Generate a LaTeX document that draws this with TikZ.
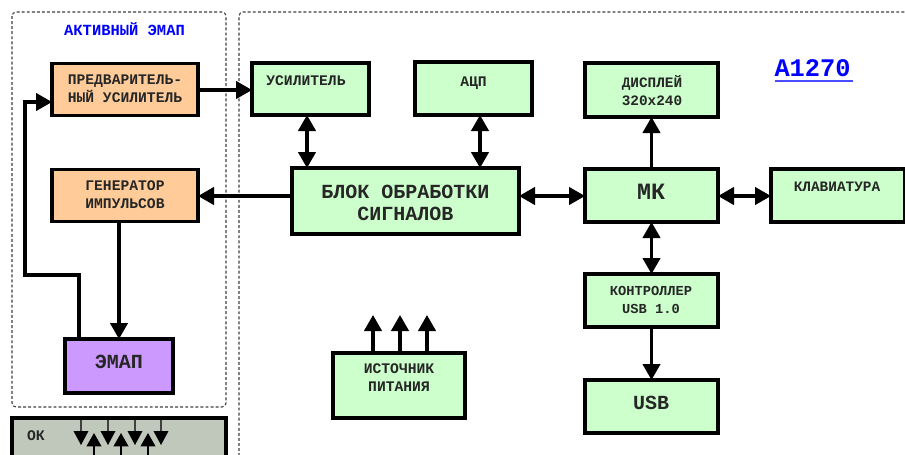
\documentclass[tikz,border=0pt]{standalone}
\usepackage{fontspec}
\usetikzlibrary{arrows.meta}
\setmainfont{Liberation Mono}
\definecolor{bxgreen}{HTML}{CCFFCC}
\definecolor{bxorange}{HTML}{FFCC99}
\definecolor{bxviolet}{HTML}{CC99FF}
\definecolor{bxgrey}{HTML}{C0C8BC}
\definecolor{txtblue}{HTML}{0000FF}
\tikzset{
  blk/.style={draw=black,line width=2.3pt,inner sep=0pt,outer sep=0pt},
  gbox/.style={blk,fill=bxgreen},
  obox/.style={blk,fill=bxorange},
  vbox/.style={blk,fill=bxviolet},
  lbl/.style={inner sep=0pt,align=center,text=black!85,font=\bfseries\fontsize{11}{13.5}\selectfont},
  lblb/.style={lbl,font=\bfseries\fontsize{15}{17}\selectfont},
  zone/.style={draw=black!75,line width=0.8pt,dash pattern=on 2.2pt off 1.6pt,rounded corners=3pt},
  con/.style={draw=black,line width=2.4pt,-{Triangle[length=12pt,width=13pt]}},
  bicon/.style={draw=black,line width=2.4pt,{Triangle[length=12pt,width=13pt]}-{Triangle[length=12pt,width=13pt]}},
  small/.style={draw=black!75,line width=1pt,-{Triangle[length=10.5pt,width=11pt,color=black]}},
  smallup/.style={draw=black,line width=1.4pt,-{Triangle[length=10pt,width=11pt]}},
}
\begin{document}
\begin{tikzpicture}[x=0.75pt,y=-0.75pt]
\useasboundingbox (0,0) rectangle (905,454);
\clip (0,0) rectangle (905,454);
\fill[white] (0,0) rectangle (905,454);
% zones
\draw[zone] (12,12) rectangle (226,407);
\draw[zone] (960,12) -- (239,12) -- (239,500);
\node[inner sep=0pt,text=txtblue,font=\bfseries\fontsize{11.6}{14}\selectfont] (tzone) at (124.5,29) {АКТИВНЫЙ ЭМАП};
\node[inner sep=0pt,text=txtblue,font=\bfseries\fontsize{19}{22}\selectfont] (tmodel) at (812.5,68) {A1270};
\coordinate (ula) at (775,81); \coordinate (ulb) at (853,81);
\draw[txtblue!70,line width=1pt] (ula) -- (ulb);
% boxes
\node[obox,minimum width=109.5pt,minimum height=39.5pt] (pre) at (125,89.5) {};
\node[obox,minimum width=109.5pt,minimum height=39.5pt] (gen) at (125,195.5) {};
\node[vbox,minimum width=81pt,minimum height=40.5pt] (emap) at (119,366) {};
\node[gbox,minimum width=87.75pt,minimum height=39pt] (amp) at (310.5,89) {};
\node[gbox,minimum width=87.75pt,minimum height=39.75pt] (adc) at (473.5,88.5) {};
\node[gbox,minimum width=99.75pt,minimum height=40.5pt] (dsp) at (651.5,90) {};
\node[gbox,minimum width=170.25pt,minimum height=49.5pt] (proc) at (405.5,201) {};
\node[gbox,minimum width=99.75pt,minimum height=39.75pt] (mk) at (651.5,195.5) {};
\node[gbox,minimum width=100.5pt,minimum height=39.75pt] (kbd) at (838,195.5) {};
\node[gbox,minimum width=99.75pt,minimum height=39.75pt] (usbc) at (651.5,300.5) {};
\node[gbox,minimum width=99.75pt,minimum height=39.75pt] (usb) at (651.5,406.5) {};
\node[gbox,minimum width=99pt,minimum height=48.75pt] (pwr) at (399,385.5) {};
\node[blk,fill=bxgrey,minimum width=160.5pt,minimum height=60pt,anchor=north west] (ok) at (12,418) {};
% texts
\node[lbl] (tpre) at (125,89) {ПРЕДВАРИТЕЛЬ-\\НЫЙ УСИЛИТЕЛЬ};
\node[lbl] (tgen) at (125,195) {ГЕНЕРАТОР\\ИМПУЛЬСОВ};
\node[lblb] (temap) at (119,362) {ЭМАП};
\node[lbl] (tamp) at (306,81) {УСИЛИТЕЛЬ};
\node[lbl] (tadc) at (473.5,83) {АЦП};
\node[lbl,font=\bfseries\fontsize{10.8}{13}\selectfont] (tdsp) at (652,90.5) {ДИСПЛЕЙ\\320x240};
\node[lblb] (tproc) at (405.5,203) {БЛОК ОБРАБОТКИ\\СИГНАЛОВ};
\node[lbl,font=\bfseries\fontsize{17.5}{20}\selectfont] (tmk) at (651,192) {МК};
\node[lbl,font=\bfseries\fontsize{10.8}{14}\selectfont] (tkbd) at (837,187) {КЛАВИАТУРА};
\node[lbl,font=\bfseries\fontsize{10.3}{14}\selectfont] (tusbc) at (651,300) {КОНТРОЛЛЕР\\USB 1.0};
\node[lblb] (tusb) at (651,403) {USB};
\node[lbl] (tpwr) at (399,378) {ИСТОЧНИК\\ПИТАНИЯ};
\node[lbl] (tok) at (36,436) {ОК};
% connectors
\draw[con] (pre.east |- 0,90) -- (amp.west |- 0,90);
\draw[con] (proc.west |- 0,196) -- (gen.east |- 0,196);
\draw[bicon] (amp.south -| 307,0) -- (proc.north -| 307,0);
\draw[bicon] (adc.south -| 480,0) -- (proc.north -| 480,0);
\draw[bicon] (proc.east |- 0,196) -- (mk.west |- 0,196);
\draw[bicon] (mk.east |- 0,196) -- (kbd.west |- 0,196);
\draw[con] (mk.north) -- (dsp.south);
\draw[bicon] (mk.south) -- (usbc.north);
\draw[con] (usbc.south) -- (usb.north);
\draw[con] (gen.south -| emap.north) -- (emap.north);
\coordinate (fb1) at (79,275);
\coordinate (fb2) at (25,275);
\coordinate (fb3) at (25,102);
\draw[con] (emap.north -| fb1) -- (fb1) -- (fb2) -- (fb3) -- (pre.west |- fb3);
\coordinate (pa) at (373,315); \coordinate (pb) at (400,315); \coordinate (pc) at (427,315);
\draw[con] (pwr.north -| pa) -- (pa);
\draw[con] (pwr.north -| pb) -- (pb);
\draw[con] (pwr.north -| pc) -- (pc);
% bottom-left arrows
\foreach \n/\xx in {d1/81,d2/108,d3/135,d4/161}{
  \coordinate (\n a) at (\xx,420); \coordinate (\n b) at (\xx,445);
  \draw[small] (\n a) -- (\n b);
}
\foreach \n/\xx in {u1/94,u2/121,u3/148}{
  \coordinate (\n a) at (\xx,456); \coordinate (\n b) at (\xx,433);
  \draw[smallup] (\n a) -- (\n b);
}
\end{tikzpicture}
\end{document}
